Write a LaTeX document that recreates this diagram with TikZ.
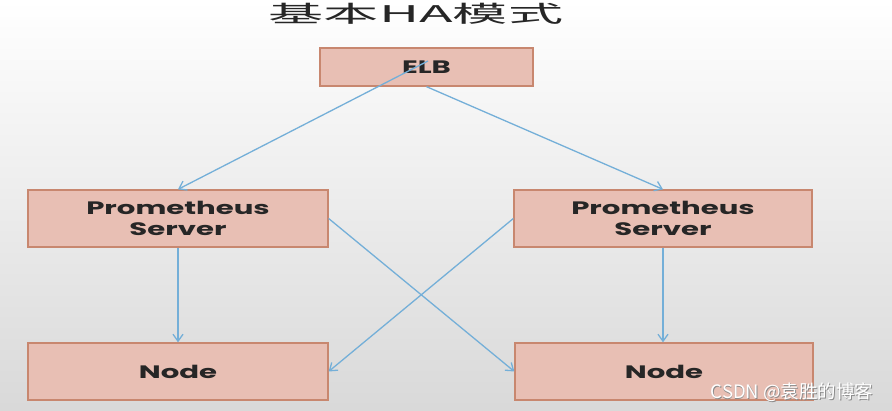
\documentclass[tikz,border=0pt]{standalone}
\usepackage{fontspec}
\usetikzlibrary{arrows.meta}
\newfontfamily\titlefont[FakeStretch=2.4]{Noto Sans CJK SC}
\newfontfamily\boxfont[FakeStretch=1.62]{Poppins}
\newfontfamily\wmfont{Noto Sans CJK SC}
\definecolor{boxfill}{HTML}{E8BFB4}
\definecolor{boxline}{HTML}{C8876F}
\definecolor{arrowblue}{HTML}{74AFD8}
\tikzset{
  slidebox/.style={draw=boxline, line width=1.3pt, fill=boxfill, inner sep=0pt,
    font=\boxfont\bfseries\fontsize{18}{21}\selectfont, text=black!85, align=center},
  link/.style={draw=arrowblue, line width=1.3pt, -{Straight Barb[length=7pt,width=10pt]}}
}
\begin{document}
\begin{tikzpicture}[x=1pt,y=-1pt]
\useasboundingbox (0,0) rectangle (892,411);
\shade[top color=white, bottom color=black!15] (0,0) rectangle (892,411);
\node[font=\titlefont\fontsize{23}{26}\selectfont, text=black!85] (title) at (416,14) {基本HA模式};
\node[slidebox, minimum width=213pt, minimum height=38pt] (elb) at (426.5,67) {ELB};
\node[slidebox, minimum width=300pt, minimum height=57pt] (ps1) at (178,218.5) {Prometheus\\Server};
\node[slidebox, minimum width=298pt, minimum height=57pt] (ps2) at (663,218.5) {Prometheus\\Server};
\node[slidebox, minimum width=300pt, minimum height=57pt] (n1) at (178,371.5) {Node};
\node[slidebox, minimum width=298pt, minimum height=57pt] (n2) at (664,371.5) {Node};
\coordinate (elbin) at (428,61);
\draw[link] (elbin) -- (ps1.north);
\draw[link] (elb.south) -- (ps2.north);
\draw[link] (ps1.south) -- (n1.north);
\draw[link] (ps2.south) -- (n2.north -| ps2.south);
\draw[link] (ps1.east) -- (n2.west);
\draw[link] (ps2.west) -- (n1.east);
\node[font=\wmfont\fontsize{18.5}{20}\selectfont, text=black!45] at (792.8,392.8) {CSDN @袁胜的博客};
\node[font=\wmfont\fontsize{18.5}{20}\selectfont, text=white] (wm) at (792,392) {CSDN @袁胜的博客};
\end{tikzpicture}
\end{document}
